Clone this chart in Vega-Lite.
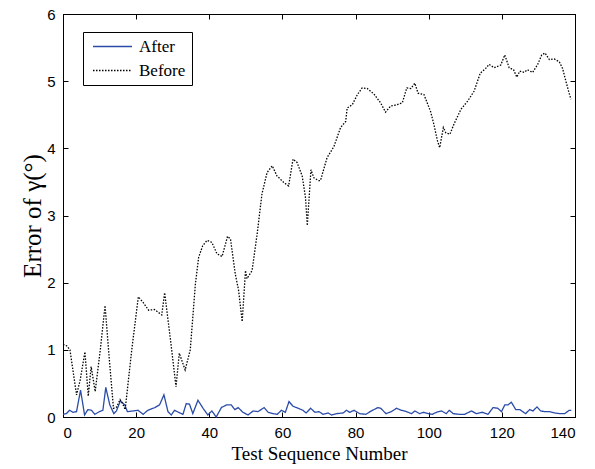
{
  "$schema": "https://vega.github.io/schema/vega-lite/v6.json",
  "width": 512,
  "height": 403,
  "autosize": {"type": "none"},
  "padding": {"left": 63, "top": 14, "right": 20, "bottom": 52},
  "background": "white",
  "datasets": {
    "err": [
      {"s":"After","n":0,"e":0.04},{"s":"After","n":0.9,"e":0.05},{"s":"After","n":1.8,"e":0.10},{"s":"After","n":2.7,"e":0.07},{"s":"After","n":3.7,"e":0.08},{"s":"After","n":4.8,"e":0.40},{"s":"After","n":5.9,"e":0.03},{"s":"After","n":6.8,"e":0.11},{"s":"After","n":7.8,"e":0.10},{"s":"After","n":8.7,"e":0.04},{"s":"After","n":10,"e":0.08},{"s":"After","n":10.9,"e":0.10},{"s":"After","n":11.7,"e":0.44},{"s":"After","n":12.8,"e":0.18},{"s":"After","n":13.9,"e":0.05},{"s":"After","n":14.6,"e":0.09},{"s":"After","n":15.7,"e":0.24},{"s":"After","n":16.9,"e":0.18},{"s":"After","n":17.6,"e":0.08},{"s":"After","n":19.1,"e":0.09},{"s":"After","n":20.5,"e":0.10},{"s":"After","n":21.9,"e":0.04},{"s":"After","n":23.2,"e":0.10},{"s":"After","n":25.1,"e":0.14},{"s":"After","n":26.4,"e":0.18},{"s":"After","n":27.6,"e":0.33},{"s":"After","n":28.7,"e":0.08},{"s":"After","n":29.6,"e":0.03},{"s":"After","n":30.5,"e":0.10},{"s":"After","n":31.6,"e":0.07},{"s":"After","n":32.8,"e":0.04},{"s":"After","n":33.7,"e":0.20},{"s":"After","n":34.6,"e":0.19},{"s":"After","n":35.5,"e":0.05},{"s":"After","n":36.9,"e":0.25},{"s":"After","n":38.3,"e":0.13},{"s":"After","n":39.6,"e":0.03},{"s":"After","n":40.7,"e":0.09},{"s":"After","n":41.9,"e":0.00},{"s":"After","n":43.3,"e":0.14},{"s":"After","n":44.7,"e":0.18},{"s":"After","n":46,"e":0.18},{"s":"After","n":47,"e":0.11},{"s":"After","n":47.9,"e":0.14},{"s":"After","n":49.2,"e":0.07},{"s":"After","n":50.6,"e":0.03},{"s":"After","n":52,"e":0.09},{"s":"After","n":53.3,"e":0.08},{"s":"After","n":55,"e":0.14},{"s":"After","n":56.1,"e":0.07},{"s":"After","n":57.4,"e":0.05},{"s":"After","n":58.6,"e":0.04},{"s":"After","n":59.7,"e":0.10},{"s":"After","n":60.8,"e":0.07},{"s":"After","n":61.8,"e":0.23},{"s":"After","n":62.9,"e":0.16},{"s":"After","n":64.3,"e":0.13},{"s":"After","n":65.6,"e":0.10},{"s":"After","n":66.5,"e":0.06},{"s":"After","n":67.7,"e":0.13},{"s":"After","n":68.9,"e":0.07},{"s":"After","n":70,"e":0.08},{"s":"After","n":71.1,"e":0.04},{"s":"After","n":72.5,"e":0.06},{"s":"After","n":73.4,"e":0.03},{"s":"After","n":74.8,"e":0.05},{"s":"After","n":76.6,"e":0.06},{"s":"After","n":77.5,"e":0.10},{"s":"After","n":78.4,"e":0.07},{"s":"After","n":79.6,"e":0.10},{"s":"After","n":81.1,"e":0.05},{"s":"After","n":82.8,"e":0.04},{"s":"After","n":84.3,"e":0.09},{"s":"After","n":86.1,"e":0.14},{"s":"After","n":86.9,"e":0.13},{"s":"After","n":88.3,"e":0.05},{"s":"After","n":89.8,"e":0.08},{"s":"After","n":91.2,"e":0.13},{"s":"After","n":92.5,"e":0.10},{"s":"After","n":93.9,"e":0.08},{"s":"After","n":95.3,"e":0.05},{"s":"After","n":96.2,"e":0.09},{"s":"After","n":97.5,"e":0.05},{"s":"After","n":98.6,"e":0.07},{"s":"After","n":99.8,"e":0.05},{"s":"After","n":101,"e":0.04},{"s":"After","n":102.1,"e":0.07},{"s":"After","n":103.5,"e":0.09},{"s":"After","n":104.8,"e":0.05},{"s":"After","n":105.6,"e":0.10},{"s":"After","n":106.7,"e":0.05},{"s":"After","n":108.3,"e":0.04},{"s":"After","n":109.8,"e":0.04},{"s":"After","n":111.7,"e":0.09},{"s":"After","n":113,"e":0.05},{"s":"After","n":114.7,"e":0.07},{"s":"After","n":116.2,"e":0.04},{"s":"After","n":117.6,"e":0.14},{"s":"After","n":118.9,"e":0.13},{"s":"After","n":119.9,"e":0.08},{"s":"After","n":120.8,"e":0.18},{"s":"After","n":121.7,"e":0.18},{"s":"After","n":122.6,"e":0.22},{"s":"After","n":123.8,"e":0.11},{"s":"After","n":124.9,"e":0.11},{"s":"After","n":126.5,"e":0.05},{"s":"After","n":127.6,"e":0.11},{"s":"After","n":128.5,"e":0.09},{"s":"After","n":129.6,"e":0.15},{"s":"After","n":130.6,"e":0.09},{"s":"After","n":131.8,"e":0.08},{"s":"After","n":133.1,"e":0.08},{"s":"After","n":134.5,"e":0.06},{"s":"After","n":135.8,"e":0.05},{"s":"After","n":137.2,"e":0.05},{"s":"After","n":138.4,"e":0.10},{"s":"After","n":139,"e":0.10},
      {"s":"Before","n":0,"e":1.08},{"s":"Before","n":1,"e":1.06},{"s":"Before","n":1.9,"e":1.00},{"s":"Before","n":3.7,"e":0.33},{"s":"Before","n":4.7,"e":0.55},{"s":"Before","n":6,"e":0.97},{"s":"Before","n":6.9,"e":0.31},{"s":"Before","n":7.7,"e":0.75},{"s":"Before","n":8.8,"e":0.38},{"s":"Before","n":10.2,"e":1.0},{"s":"Before","n":11.5,"e":1.66},{"s":"Before","n":12.6,"e":0.9},{"s":"Before","n":13.8,"e":0.13},{"s":"Before","n":14.7,"e":0.15},{"s":"Before","n":15.6,"e":0.26},{"s":"Before","n":16.3,"e":0.2},{"s":"Before","n":17,"e":0.11},{"s":"Before","n":18.8,"e":1.0},{"s":"Before","n":20.6,"e":1.79},{"s":"Before","n":22,"e":1.7},{"s":"Before","n":23.4,"e":1.59},{"s":"Before","n":25,"e":1.6},{"s":"Before","n":27,"e":1.52},{"s":"Before","n":27.8,"e":1.85},{"s":"Before","n":29.5,"e":1.1},{"s":"Before","n":30.9,"e":0.45},{"s":"Before","n":31.8,"e":0.95},{"s":"Before","n":33.4,"e":0.70},{"s":"Before","n":34.8,"e":1.00},{"s":"Before","n":36.2,"e":1.98},{"s":"Before","n":37.1,"e":2.38},{"s":"Before","n":38.2,"e":2.55},{"s":"Before","n":39.4,"e":2.63},{"s":"Before","n":40.7,"e":2.60},{"s":"Before","n":42.1,"e":2.43},{"s":"Before","n":43.5,"e":2.39},{"s":"Before","n":45,"e":2.69},{"s":"Before","n":45.8,"e":2.65},{"s":"Before","n":47.1,"e":2.13},{"s":"Before","n":48,"e":1.89},{"s":"Before","n":49,"e":1.42},{"s":"Before","n":49.9,"e":2.18},{"s":"Before","n":50.3,"e":2.06},{"s":"Before","n":51.7,"e":2.18},{"s":"Before","n":53.1,"e":2.73},{"s":"Before","n":54.4,"e":3.32},{"s":"Before","n":55.8,"e":3.64},{"s":"Before","n":57.2,"e":3.74},{"s":"Before","n":58.5,"e":3.59},{"s":"Before","n":60.4,"e":3.49},{"s":"Before","n":61.7,"e":3.44},{"s":"Before","n":62.9,"e":3.84},{"s":"Before","n":64,"e":3.79},{"s":"Before","n":65.4,"e":3.59},{"s":"Before","n":66.3,"e":3.27},{"s":"Before","n":66.8,"e":2.85},{"s":"Before","n":67.8,"e":3.68},{"s":"Before","n":68.6,"e":3.56},{"s":"Before","n":69.9,"e":3.52},{"s":"Before","n":70.4,"e":3.52},{"s":"Before","n":72.2,"e":3.86},{"s":"Before","n":74.1,"e":4.03},{"s":"Before","n":75.9,"e":4.31},{"s":"Before","n":77.3,"e":4.40},{"s":"Before","n":77.7,"e":4.60},{"s":"Before","n":79.1,"e":4.65},{"s":"Before","n":80.5,"e":4.80},{"s":"Before","n":81.8,"e":4.90},{"s":"Before","n":83.2,"e":4.89},{"s":"Before","n":85,"e":4.81},{"s":"Before","n":86.8,"e":4.68},{"s":"Before","n":88.2,"e":4.54},{"s":"Before","n":89.6,"e":4.63},{"s":"Before","n":91.4,"e":4.65},{"s":"Before","n":92.8,"e":4.68},{"s":"Before","n":94,"e":4.90},{"s":"Before","n":95.1,"e":4.89},{"s":"Before","n":96.2,"e":4.97},{"s":"Before","n":97.1,"e":4.82},{"s":"Before","n":98.7,"e":4.80},{"s":"Before","n":100.5,"e":4.55},{"s":"Before","n":101.4,"e":4.36},{"s":"Before","n":102.4,"e":4.11},{"s":"Before","n":103,"e":4.01},{"s":"Before","n":104,"e":4.31},{"s":"Before","n":104.7,"e":4.23},{"s":"Before","n":105.8,"e":4.21},{"s":"Before","n":106.9,"e":4.36},{"s":"Before","n":108.8,"e":4.58},{"s":"Before","n":110.6,"e":4.70},{"s":"Before","n":112.4,"e":4.85},{"s":"Before","n":114.1,"e":5.12},{"s":"Before","n":115.6,"e":5.19},{"s":"Before","n":116.5,"e":5.25},{"s":"Before","n":117.9,"e":5.20},{"s":"Before","n":119.7,"e":5.24},{"s":"Before","n":120.8,"e":5.39},{"s":"Before","n":122,"e":5.20},{"s":"Before","n":123.2,"e":5.17},{"s":"Before","n":124.1,"e":5.06},{"s":"Before","n":124.9,"e":5.15},{"s":"Before","n":126.1,"e":5.13},{"s":"Before","n":127,"e":5.17},{"s":"Before","n":128.4,"e":5.13},{"s":"Before","n":129.8,"e":5.25},{"s":"Before","n":130.9,"e":5.39},{"s":"Before","n":131.8,"e":5.42},{"s":"Before","n":133,"e":5.32},{"s":"Before","n":134.3,"e":5.33},{"s":"Before","n":135.7,"e":5.29},{"s":"Before","n":136.6,"e":5.19},{"s":"Before","n":137.5,"e":5.00},{"s":"Before","n":138.4,"e":4.82},{"s":"Before","n":138.9,"e":4.73}
    ]
  },
  "data": {"name": "err"},
  "layer": [
    {
      "mark": {"type": "line", "strokeWidth": 1.3, "interpolate": "linear"},
      "encoding": {
        "x": {"field": "n", "type": "quantitative", "scale": {"domain": [0, 140], "nice": false, "zero": false},
              "axis": {"orient": "bottom", "values": [0,20,40,60,80,100,120,140], "title": "Test Sequence Number", "labelPadding": 13, "titlePadding": 4, "titleFontSize": 19}},
        "y": {"field": "e", "type": "quantitative", "scale": {"domain": [0, 6], "nice": false},
              "axis": {"orient": "left", "values": [0,1,2,3,4,5,6], "title": "Error of γ(°)", "labelPadding": 13, "titlePadding": 1, "titleFontSize": 25}},
        "color": {"field": "s", "type": "nominal", "scale": {"domain": ["After", "Before"], "range": ["#2b4ca8", "#000000"]},
                  "legend": {"title": null, "orient": "none", "legendX": 20, "legendY": 18}},
        "strokeDash": {"field": "s", "type": "nominal", "scale": {"domain": ["After", "Before"], "range": [[1, 0], [1.5, 1.5]]},
                  "legend": {"title": null, "orient": "none", "legendX": 20, "legendY": 18}}
      }
    },
    {
      "mark": {"type": "point", "opacity": 0},
      "encoding": {
        "x": {"field": "n", "type": "quantitative", "axis": {"orient": "top", "values": [0,20,40,60,80,100,120,140], "labels": false, "title": null}},
        "y": {"field": "e", "type": "quantitative", "axis": {"orient": "right", "values": [0,1,2,3,4,5,6], "labels": false, "title": null}}
      }
    }
  ],
  "resolve": {"axis": {"x": "independent", "y": "independent"}},
  "config": {
    "view": {"stroke": "black", "strokeWidth": 1},
    "axis": {
      "grid": false, "domainColor": "black", "domainWidth": 1, "tickColor": "black", "tickSize": -5, "tickWidth": 1,
      "labelFont": "Liberation Sans", "labelFontSize": 15, "labelColor": "black",
      "titleFont": "Liberation Serif", "titleFontWeight": "normal", "titleColor": "black"
    },
    "legend": {
      "symbolType": "M-3,0H3", "symbolSize": 169, "symbolStrokeWidth": 1.3,
      "labelFont": "Liberation Serif", "labelFontSize": 17, "labelColor": "black",
      "fillColor": "white", "strokeColor": "black", "padding": 6, "rowPadding": 6, "labelOffset": 18, "symbolOffset": 15
    }
  }
}
